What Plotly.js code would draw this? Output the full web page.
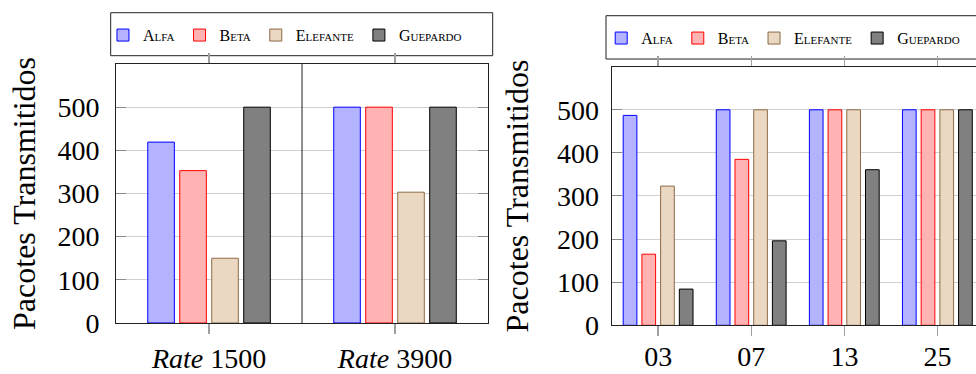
<!DOCTYPE html>
<html><head><meta charset="utf-8">
<script src="https://cdn.plot.ly/plotly-3.0.1.min.js"></script>
<style>html,body{margin:0;padding:0;background:#fff}</style>
</head><body><div id="chart" style="width:976px;height:374px"></div>
<script>
const seriesNames = ['Alfa', 'Beta', 'Elefante', 'Guepardo'];
const rateCategories = ['Rate 1500', 'Rate 3900'];
const rateTickLabels = ['<i>Rate</i> 1500', '<i>Rate</i> 3900'];
const alfaRate = [419, 500];
const betaRate = [353, 500];
const elefanteRate = [150, 303];
const guepardoRate = [500, 500];
const nodeCategories = ['03', '07', '13', '25'];
const alfaNodes = [487, 500, 500, 500];
const betaNodes = [165, 385, 500, 500];
const elefanteNodes = [323, 500, 500, 500];
const guepardoNodes = [84, 196, 361, 500];
const yTicks = [0, 100, 200, 300, 400, 500];

const fills = ['#b3b3ff', '#ffb3b3', '#ead8c3', '#808080'];
const edges = ['#0000ff', '#ff0000', '#8c6a46', '#000000'];
const serif = 'Liberation Serif, Times New Roman, serif';

const rateSeries = [alfaRate, betaRate, elefanteRate, guepardoRate];
const nodeSeries = [alfaNodes, betaNodes, elefanteNodes, guepardoNodes];

const traces = [];
rateSeries.forEach((vals, i) => {
  traces.push({
    type: 'bar', x: rateCategories, y: vals, name: seriesNames[i],
    xaxis: 'x', yaxis: 'y', legend: 'legend',
    width: 0.143, offset: -0.3295 + i * 0.172,
    marker: {color: fills[i], line: {color: edges[i], width: 1}},
    hoverinfo: 'skip'
  });
});
nodeSeries.forEach((vals, i) => {
  traces.push({
    type: 'bar', x: nodeCategories, y: vals, name: seriesNames[i],
    xaxis: 'x2', yaxis: 'y2', legend: 'legend2',
    width: 0.147, offset: -0.376 + i * 0.201,
    marker: {color: fills[i], line: {color: edges[i], width: 1}},
    hoverinfo: 'skip'
  });
});

const tickFont = {family: serif, size: 28, color: '#000'};
const titleFont = {family: serif, size: 32, color: '#000'};
const legFont = {family: serif, size: 16, color: '#000', variant: 'small-caps'};

const layout = {
  width: 976, height: 374,
  margin: {l: 0, r: 0, t: 0, b: 0},
  paper_bgcolor: '#fff', plot_bgcolor: '#fff',
  barmode: 'overlay',
  showlegend: true,
  xaxis: {
    domain: [0.1189, 0.5], type: 'category', range: [-0.5, 1.5],
    tickmode: 'array', tickvals: rateCategories, ticktext: rateTickLabels,
    ticks: 'outside', ticklen: 10, tickcolor: '#a0a0a0', tickwidth: 1.5,
    showline: true, linecolor: '#222', linewidth: 1, mirror: 'ticks',
    showgrid: false, zeroline: false, tickfont: tickFont, ticklabelstandoff: 0,
    anchor: 'y', fixedrange: true
  },
  yaxis: {
    domain: [0.1364, 0.8289], range: [0, 600],
    tickmode: 'array', tickvals: yTicks,
    ticks: 'inside', ticklen: 10, tickcolor: '#8a8a8a', tickwidth: 1,
    showline: true, linecolor: '#222', linewidth: 1, mirror: 'ticks',
    showgrid: true, gridcolor: '#d0d0d0', gridwidth: 1, zeroline: false,
    tickfont: tickFont, ticklabelstandoff: 10,
    title: {text: 'Pacotes Transmitidos', font: titleFont, standoff: 12},
    anchor: 'x', fixedrange: true
  },
  xaxis2: {
    domain: [0.6267, 1], type: 'category', range: [-0.5, 3.414],
    ticks: 'outside', ticklen: 10, tickcolor: '#a0a0a0', tickwidth: 1.5,
    showline: true, linecolor: '#222', linewidth: 1, mirror: 'ticks',
    showgrid: false, zeroline: false, tickfont: tickFont, ticklabelstandoff: -4,
    anchor: 'y2', fixedrange: true
  },
  yaxis2: {
    domain: [0.1302, 0.8217], range: [0, 600],
    tickmode: 'array', tickvals: yTicks,
    ticks: 'inside', ticklen: 10, tickcolor: '#8a8a8a', tickwidth: 1,
    showline: true, linecolor: '#222', linewidth: 1, mirror: false,
    showgrid: true, gridcolor: '#d0d0d0', gridwidth: 1, zeroline: false,
    tickfont: tickFont, ticklabelstandoff: 6,
    title: {text: 'Pacotes Transmitidos', font: titleFont, standoff: 18},
    anchor: 'x2', fixedrange: true
  },
  legend: {
    x: 0.1055, y: 0.906, xanchor: 'left', yanchor: 'middle',
    orientation: 'h', bgcolor: 'rgba(0,0,0,0)', borderwidth: 0,
    font: legFont, itemwidth: 30
  },
  legend2: {
    x: 0.616, y: 0.898, xanchor: 'left', yanchor: 'middle',
    orientation: 'h', bgcolor: 'rgba(0,0,0,0)', borderwidth: 0,
    font: legFont, itemwidth: 30
  },
  shapes: [
    {type: 'line', xref: 'x', yref: 'y domain', x0: 0.5, x1: 0.5, y0: 0, y1: 1,
     line: {color: '#222', width: 1}},
    {type: 'rect', xref: 'paper', yref: 'paper', x0: 0.1134, x1: 0.5048, y0: 0.8511, y1: 0.966,
     line: {color: '#222', width: 1}, fillcolor: 'rgba(0,0,0,0)', layer: 'below'},
    {type: 'rect', xref: 'paper', yref: 'paper', x0: 0.6209, x1: 1.02, y0: 0.8422, y1: 0.958,
     line: {color: '#222', width: 1}, fillcolor: 'rgba(0,0,0,0)', layer: 'below'}
  ]
};

Plotly.newPlot('chart', traces, layout, {displayModeBar: false, staticPlot: true});
</script>
</body></html>
